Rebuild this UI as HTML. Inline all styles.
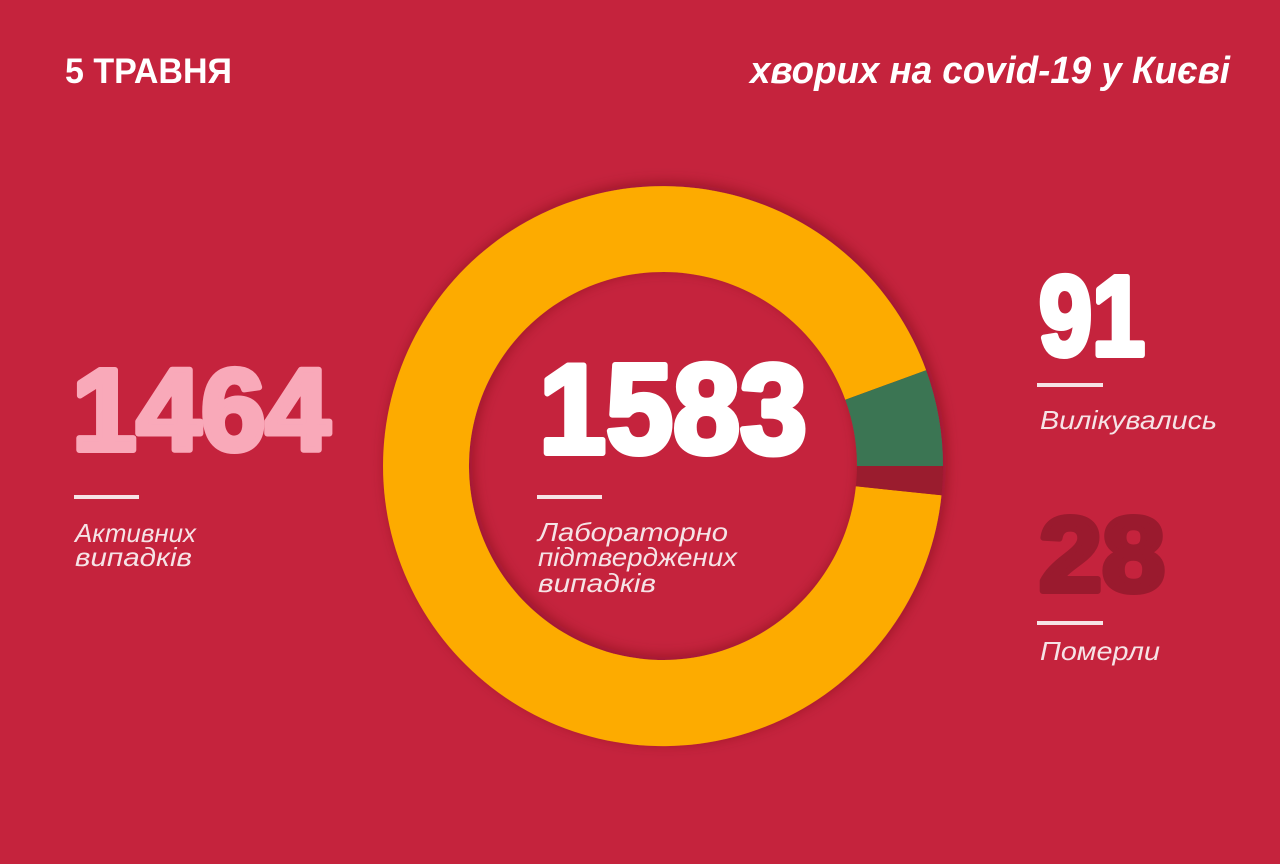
<!DOCTYPE html>
<html>
<head>
<meta charset="utf-8">
<style>
  html, body { margin:0; padding:0; }
  body { width:1280px; height:864px; background:#c5233d; overflow:hidden; }
  svg { display:block; }
</style>
</head>
<body>
<svg width="1280" height="864" viewBox="0 0 1280 864" xmlns="http://www.w3.org/2000/svg">
  <defs>
    <filter id="sh" x="-20%" y="-20%" width="140%" height="140%">
      <feDropShadow dx="3" dy="-3" stdDeviation="7" flood-color="#5a0012" flood-opacity="0.45"/>
    </filter>
  </defs>
  <rect width="1280" height="864" fill="#c5233d"/>

  <!-- Titles -->
  <text x="65" y="83" font-family="Liberation Sans, sans-serif" font-weight="bold" font-size="35" fill="#ffffff" textLength="167" lengthAdjust="spacingAndGlyphs">5 ТРАВНЯ</text>
  <text x="750" y="83" font-family="Liberation Sans, sans-serif" font-weight="bold" font-style="italic" font-size="38" fill="#ffffff" textLength="480" lengthAdjust="spacingAndGlyphs">хворих на covid-19 у Києві</text>

  <!-- Donut -->
  <g filter="url(#sh)">
    <path d="M941.5,495.3 A280,280 0 1 1 926.1,370.2 L845.3,399.7 A194,194 0 1 0 855.9,486.3 Z" fill="#fdab00"/>
    <path d="M926.1,370.2 A280,280 0 0 1 943,466 L857,466 A194,194 0 0 0 845.3,399.7 Z" fill="#3a7552"/>
    <path d="M943,466 A280,280 0 0 1 941.5,495.3 L855.9,486.3 A194,194 0 0 0 857,466 Z" fill="#9a1a2e"/>
  </g>

  <!-- Left: 1464 -->
  <text x="72" y="450" font-family="Liberation Sans, sans-serif" font-weight="bold" font-size="116" fill="#f9a9b9" stroke="#f9a9b9" stroke-width="6" stroke-linejoin="round" textLength="258" lengthAdjust="spacingAndGlyphs">1464</text>
  <rect x="74" y="495" width="65" height="4" fill="#f6e3e6"/>
  <text x="75" y="542" font-family="Liberation Sans, sans-serif" font-style="italic" font-size="26" fill="#f6e3e6" textLength="121" lengthAdjust="spacingAndGlyphs">Активних</text>
  <text x="75" y="566" font-family="Liberation Sans, sans-serif" font-style="italic" font-size="26" fill="#f6e3e6" textLength="117" lengthAdjust="spacingAndGlyphs">випадків</text>

  <!-- Center: 1583 -->
  <text x="539" y="453" font-family="Liberation Sans, sans-serif" font-weight="bold" font-size="127" fill="#ffffff" stroke="#ffffff" stroke-width="6" stroke-linejoin="round" textLength="268" lengthAdjust="spacingAndGlyphs">1583</text>
  <rect x="537" y="495" width="65" height="4" fill="#f6e3e6"/>
  <text x="538" y="541" font-family="Liberation Sans, sans-serif" font-style="italic" font-size="26" fill="#f6e3e6" textLength="190" lengthAdjust="spacingAndGlyphs">Лабораторно</text>
  <text x="538" y="566" font-family="Liberation Sans, sans-serif" font-style="italic" font-size="26" fill="#f6e3e6" textLength="199" lengthAdjust="spacingAndGlyphs">підтверджених</text>
  <text x="538" y="592" font-family="Liberation Sans, sans-serif" font-style="italic" font-size="26" fill="#f6e3e6" textLength="118" lengthAdjust="spacingAndGlyphs">випадків</text>

  <!-- Right: 91 -->
  <text x="1039" y="355" font-family="Liberation Sans, sans-serif" font-weight="bold" font-size="113" fill="#ffffff" stroke="#ffffff" stroke-width="6" stroke-linejoin="round" textLength="106" lengthAdjust="spacingAndGlyphs">91</text>
  <rect x="1037" y="383" width="66" height="4" fill="#f6e3e6"/>
  <text x="1040" y="429" font-family="Liberation Sans, sans-serif" font-style="italic" font-size="26" fill="#f6e3e6" textLength="177" lengthAdjust="spacingAndGlyphs">Вилікувались</text>

  <!-- Right: 28 -->
  <text x="1039" y="591" font-family="Liberation Sans, sans-serif" font-weight="bold" font-size="106" fill="#9a1a2e" stroke="#9a1a2e" stroke-width="6" stroke-linejoin="round" textLength="126" lengthAdjust="spacingAndGlyphs">28</text>
  <rect x="1037" y="621" width="66" height="4" fill="#f6e3e6"/>
  <text x="1040" y="660" font-family="Liberation Sans, sans-serif" font-style="italic" font-size="26" fill="#f6e3e6" textLength="120" lengthAdjust="spacingAndGlyphs">Померли</text>
</svg>
</body>
</html>
